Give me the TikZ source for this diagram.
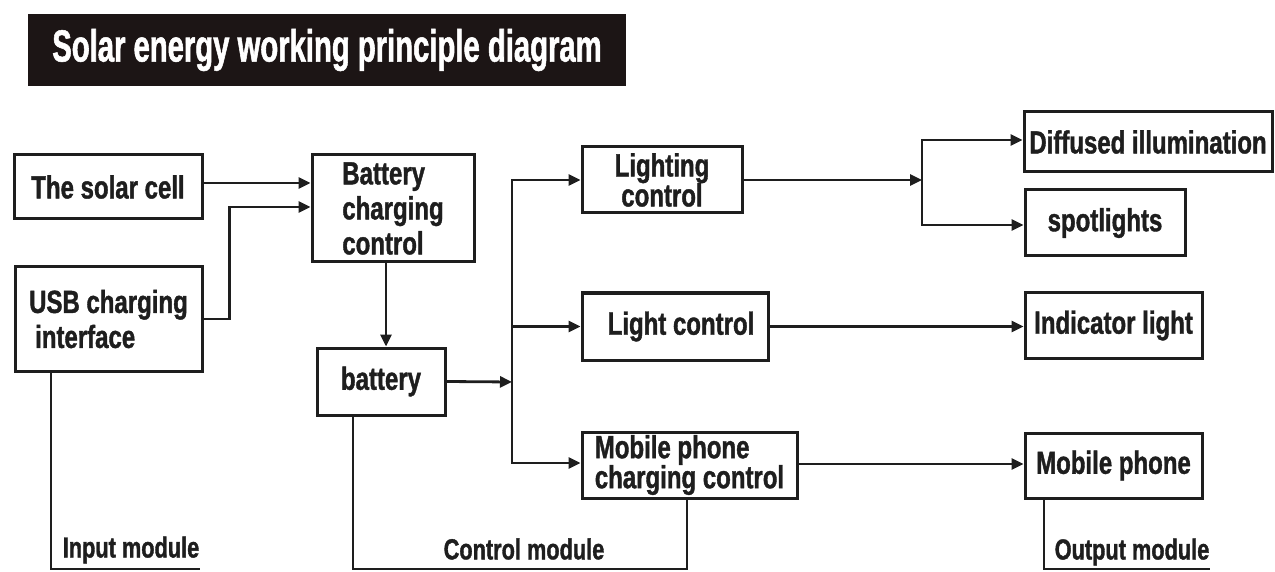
\documentclass[tikz,border=0pt]{standalone}
\usepackage{fontspec}
\setmainfont{Liberation Sans}[FakeStretch=0.75,FakeBold=1.2]
\newfontfamily\titlefont{Liberation Sans}[FakeStretch=0.65,FakeBold=1.2]
\usetikzlibrary{arrows.meta}
\definecolor{ink}{HTML}{1E1E1E}
\definecolor{titlebg}{HTML}{1C1515}
\begin{document}
\begin{tikzpicture}[x=1pt,y=-1pt,
  box/.style={draw=ink, line width=3pt, inner sep=0pt, text=ink,
    font=\fontsize{32}{35}\selectfont\bfseries},
  tight/.style={font=\fontsize{32}{30}\selectfont\bfseries},
  lbl/.style={inner sep=0pt, text=ink, font=\fontsize{29}{31}\selectfont\bfseries},
  wire/.style={draw=ink, line width=2.8pt},
  arr/.style={wire, -{Triangle[length=12pt,width=11pt]}}]
\useasboundingbox (0,0) rectangle (1275,572);
\fill[white] (0,0) rectangle (1275,572);
% title
\node[fill=titlebg, text=white, minimum width=598pt, minimum height=72pt, inner sep=0pt,
  font=\titlefont\fontsize{45}{48}\selectfont\bfseries] (title) at (327,50)
  {Solar energy working principle diagram};
% input
\node[box, minimum width=188pt, minimum height=64pt] (solar) at (108,187) {The solar cell};
\node[box, minimum width=187pt, minimum height=104pt, align=left] (usb) at (108.5,319) {USB charging\\\hspace{6pt}interface};
% control
\node[box, minimum width=162pt, minimum height=107pt, align=left] (bcc) at (393,208.5) {Battery\\charging\\control};
\node[box, minimum width=128pt, minimum height=67pt] (bat) at (381,381.5) {battery};
\node[box, tight, minimum width=160pt, minimum height=66pt, align=center] (lc) at (662,180) {Lighting\\control};
\node[box, minimum width=186pt, minimum height=67pt] (lic) at (675,326.5) {\hspace{12pt}Light control};
\node[box, tight, minimum width=215pt, minimum height=66pt, align=left] (mpc) at (689.5,465) {Mobile phone\\charging control};
% output
\node[box, minimum width=248pt, minimum height=60pt] (diff) at (1148,142) {Diffused illumination};
\node[box, minimum width=160pt, minimum height=66pt] (spot) at (1105,223) {spotlights};
\node[box, minimum width=177pt, minimum height=65pt] (ind) at (1113.5,325.5) {Indicator light};
\node[box, minimum width=177pt, minimum height=65pt] (mp) at (1113.5,465.5) {Mobile phone};
% connectors
\draw[arr] ([yshift=4pt]solar.east) -- ([yshift=4pt]solar.east -| bcc.west);
\draw[arr] (usb.east) -- ++(26,0) |- ([yshift=1.5pt]bcc.west);
\draw[arr] ([xshift=-7pt]bcc.south) -- ([xshift=-7pt]bcc.south |- bat.north);
\coordinate (bus) at (512,382);
\draw[arr] (bat.east) -- (bus);
\draw[arr] (bus) |- (lc.west);
\draw[arr] (bus) |- (lic.west);
\draw[arr] (bus) |- ([yshift=2pt]mpc.west);
\coordinate (split) at (922,181);
\draw[arr] (lc.east) -- (lc.east -| split);
\draw[arr] (split) |- ([yshift=2pt]diff.west);
\draw[arr] (split) |- ([yshift=-2pt]spot.west);
\draw[arr] (lic.east) -- (lic.east -| ind.west);
\draw[arr] ([yshift=1pt]mpc.east) -- ([yshift=1pt]mpc.east -| mp.west);
% module brackets
\coordinate (inA) at (51,569);
\coordinate (inB) at (200,569);
\draw[wire] (usb.south -| inA) -- (inA) -- (inB);
\node[lbl] (inlbl) at (131,550) {Input module};
\coordinate (cA) at (353,569);
\coordinate (cB) at (687,569);
\draw[wire] (bat.south -| cA) -- (cA) -- (cB) -- (cB |- mpc.south);
\node[lbl] (ctllbl) at (524,549) {Control module};
\coordinate (oA) at (1044,569);
\coordinate (oB) at (1210,569);
\draw[wire] (mp.south -| oA) -- (oA) -- (oB);
\node[lbl] (outlbl) at (1132,552) {Output module};
\end{tikzpicture}
\end{document}
